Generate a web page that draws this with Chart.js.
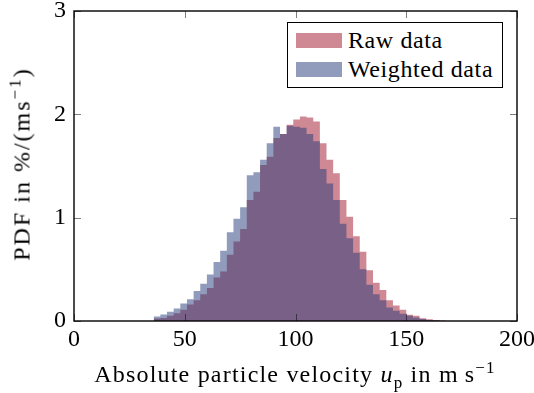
<!DOCTYPE html>
<html>
<head>
<meta charset="utf-8">
<script src="https://cdn.jsdelivr.net/npm/chart.js@4.4.1/dist/chart.umd.min.js"></script>
<style>
  html, body { margin: 0; padding: 0; background: #fff; }
  #wrap { position: relative; width: 534px; height: 393px; overflow: hidden; }
  #chart { position: absolute; left: 0; top: 0; }
  .serif { font-family: 'Liberation Serif', 'DejaVu Serif', serif; color: #000; }
  #xtitle { position: absolute; left: 0; width: 590px; top: 361px; text-align: center; font-size: 24px; letter-spacing: 1.2px; white-space: nowrap; }
  #ytitle { position: absolute; left: 22px; top: 164px; font-size: 24px; letter-spacing: 2px; white-space: nowrap;
            transform: translate(-50%, -50%) rotate(-90deg); }
  #legend { position: absolute; left: 287px; top: 22px; width: 216px; height: 66px; box-sizing: border-box;
            border: 1.3px solid #000; background: #fff; padding: 3px 0 0 8px; }
  .entry { display: flex; align-items: center; height: 29px; font-size: 24px; letter-spacing: 0.6px; }
  .swatch { width: 46px; height: 15px; margin-right: 6px; }
  sup, sub { font-size: 17px; line-height: 0; }
</style>
</head>
<body>
<div id="wrap">
  <canvas id="chart" width="534" height="393"></canvas>
  <div id="xtitle" class="serif">Absolute particle velocity <i>u</i><sub>p</sub> in m&#8201;s<sup>&minus;1</sup></div>
  <div id="ytitle" class="serif">PDF in %/(ms<sup>&minus;1</sup>)</div>
  <div id="legend" class="serif"></div>
</div>
<script>
// histogram bins, left edges (m/s), width 3
const binEdges = [36, 39, 42, 45, 48, 51, 54, 57, 60, 63, 66, 69, 72, 75, 78, 81, 84, 87, 90, 93, 96,
  99, 102, 105, 108, 111, 114, 117, 120, 123, 126, 129, 132, 135, 138, 141, 144, 147, 150, 153, 156,
  159, 162, 165, 168];

// PDF in %/(m/s), one value per bin
const rawPdf = [0.024, 0.03, 0.05, 0.076, 0.11, 0.16, 0.20, 0.26, 0.32, 0.42, 0.48, 0.64, 0.77, 0.89,
  1.17, 1.25, 1.51, 1.59, 1.77, 1.81, 1.90, 1.95, 1.98, 1.97, 1.93, 1.72, 1.56, 1.43, 1.17, 1.01,
  0.82, 0.67, 0.49, 0.37, 0.30, 0.20, 0.15, 0.11, 0.06, 0.05, 0.027, 0.018, 0.01, 0.005];
const weightedPdf = [0.044, 0.063, 0.089, 0.12, 0.17, 0.21, 0.29, 0.36, 0.45, 0.57, 0.68, 0.86, 0.99,
  1.10, 1.41, 1.44, 1.56, 1.72, 1.88, 1.81, 1.89, 1.88, 1.87, 1.81, 1.74, 1.47, 1.33, 1.17, 0.94,
  0.80, 0.66, 0.50, 0.35, 0.26, 0.20, 0.13, 0.10, 0.07, 0.05, 0.035, 0.02, 0.01, 0.005, 0];

const seriesNames = ['Raw data', 'Weighted data'];
const seriesColors = ['rgba(160,20,42,0.5)', 'rgba(35,55,122,0.5)'];
const swatchColors = ['rgb(207,137,148)', 'rgb(145,155,188)'];

const xTicks = [0, 50, 100, 150, 200];
const yTicks = [0, 1, 2, 3];

function toSteps(values) {
  // last edge closes the final bin
  return binEdges.map((x, i) => ({ x: x, y: i < values.length ? values[i] : 0 }));
}

// legend
const legend = document.getElementById('legend');
seriesNames.forEach((name, i) => {
  const e = document.createElement('div');
  e.className = 'entry';
  e.innerHTML = `<span class="swatch" style="background:${swatchColors[i]}"></span>${name}`;
  legend.appendChild(e);
});

// frame + inward ticks on all four sides
const frame = {
  id: 'frame',
  afterDraw(chart) {
    const { ctx, chartArea: a, scales } = chart;
    ctx.save();
    ctx.strokeStyle = 'rgba(0,0,0,0.5)';
    ctx.lineWidth = 1;
    const tl = 7;
    xTicks.forEach(v => {
      const px = Math.round(scales.x.getPixelForValue(v)) + 0.5;
      ctx.beginPath();
      ctx.moveTo(px, a.bottom); ctx.lineTo(px, a.bottom - tl);
      ctx.moveTo(px, a.top); ctx.lineTo(px, a.top + tl);
      ctx.stroke();
    });
    yTicks.forEach(v => {
      const py = Math.round(scales.y.getPixelForValue(v)) + 0.5;
      ctx.beginPath();
      ctx.moveTo(a.left, py); ctx.lineTo(a.left + tl, py);
      ctx.moveTo(a.right, py); ctx.lineTo(a.right - tl, py);
      ctx.stroke();
    });
    ctx.strokeStyle = '#000';
    ctx.lineWidth = 1.4;
    ctx.strokeRect(a.left, a.top, a.right - a.left, a.bottom - a.top);
    ctx.restore();
  }
};

new Chart(document.getElementById('chart'), {
  type: 'line',
  data: {
    datasets: [rawPdf, weightedPdf].map((vals, i) => ({
      label: seriesNames[i],
      data: toSteps(vals),
      stepped: true,
      fill: 'origin',
      order: 1 - i,   // weighted on top
      backgroundColor: seriesColors[i],
      borderWidth: 0,
      pointRadius: 0
    }))
  },
  options: {
    responsive: false,
    animation: false,
    layout: { padding: { left: 0, right: 17, top: 11, bottom: 0 } },
    plugins: { legend: { display: false }, tooltip: { enabled: false } },
    scales: {
      x: {
        type: 'linear', min: 0, max: 200,
        afterBuildTicks: s => { s.ticks = xTicks.map(v => ({ value: v })); },
        afterFit: s => { s.height = 72; s.paddingLeft = 0; s.paddingRight = 0; },
        grid: { display: false, drawTicks: false },
        border: { display: false },
        ticks: { color: '#000', padding: 4, maxRotation: 0, font: { family: 'Liberation Serif', size: 24 } }
      },
      y: {
        min: 0, max: 3,
        afterBuildTicks: s => { s.ticks = yTicks.map(v => ({ value: v })); },
        afterFit: s => { s.width = 74; s.paddingTop = 0; s.paddingBottom = 0; },
        grid: { display: false, drawTicks: false },
        border: { display: false },
        ticks: { color: '#000', padding: 8, font: { family: 'Liberation Serif', size: 24 } }
      }
    }
  },
  plugins: [frame]
});
</script>
</body>
</html>
